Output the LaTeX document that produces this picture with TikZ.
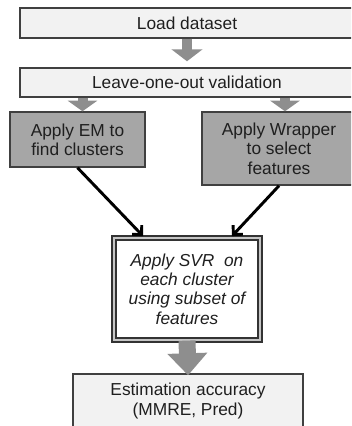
\documentclass[tikz,border=0pt]{standalone}
\usepackage{fontspec}
\setmainfont{Liberation Sans}
\usetikzlibrary{%
	arrows.meta,%
	calc
}
\definecolor{boxline}{HTML}{404040}
\definecolor{palebox}{HTML}{F2F2F2}
\definecolor{darkbox}{HTML}{A6A6A6}
\definecolor{arrowgray}{HTML}{8E8E8E}

\begin{document}
\begin{tikzpicture}
		[x=0.75pt,y=-0.75pt,
		every node/.style={font=\fontsize{13}{14.5}\selectfont,text=black!88,align=center,inner sep=0pt},
		palestep/.style={draw=boxline,line width=1.1pt,fill=palebox},
		greystep/.style={draw=boxline,line width=1.1pt,fill=darkbox},
		svrbox/.style={draw=black!80,line width=0.9pt,double=gray!45,double distance=2pt,fill=white},
		fatarrow/.style={draw=arrowgray,line width=7.5pt,-{Triangle[width=23pt,length=9pt]}},
		thinarrow/.style={draw=black,line width=2.2pt,-{Straight Barb[length=5pt,width=10pt]}}
		]
		\useasboundingbox (0,0) rectangle (351,426);
		\clip (0,0) rectangle (351,426);
		
		% boxes
		\node[palestep,minimum width=250.5pt,minimum height=22.5pt] (load) at (187,23) {Load dataset};
		\node[palestep,minimum width=250.5pt,minimum height=21.75pt] (loo) at (187,82.5) {Leave-one-out validation};
		\node[greystep,minimum width=101.25pt,minimum height=41.25pt] (em) at (77.5,139.5) {Apply EM to\\find clusters};
		\node[greystep,minimum width=115.5pt,minimum height=54.75pt] (wrap) at (279,148.5) {Apply Wrapper\\to select\\features};
		\node[svrbox,minimum width=109.5pt,minimum height=76.5pt,font=\fontsize{13}{14.5}\selectfont\itshape] (svr) at (187,289)
			{Apply SVR\ \ on\\each cluster\\using subset of\\features};
		\node[palestep,minimum width=172.5pt,minimum height=40.5pt] (est) at (188,401) {Estimation accuracy\\(MMRE, Pred)};
		
		% block arrows
		\draw[fatarrow,shorten >=4.5pt] (load.south) -- (loo.north);
		\draw[fatarrow,-{Triangle[width=22pt,length=8pt]}] ([xshift=3.75pt]loo.south -| em.north) -- ([xshift=3.75pt]em.north);
		\draw[fatarrow,-{Triangle[width=22pt,length=8pt]}] ([xshift=4.5pt]loo.south -| wrap.north) -- ([xshift=4.5pt]wrap.north);
		\draw[fatarrow,line width=12.75pt,-{Triangle[width=29pt,length=16.5pt]},shorten >=-1.5pt] (svr.south) -- (est.north);
		
		% black arrows
		\draw[thinarrow] (em.south) -- ([xshift=-33pt,yshift=1pt]svr.north);
		\draw[thinarrow] (wrap.south) -- ([xshift=33.75pt,yshift=1pt]svr.north);
	\end{tikzpicture}
\end{document}
